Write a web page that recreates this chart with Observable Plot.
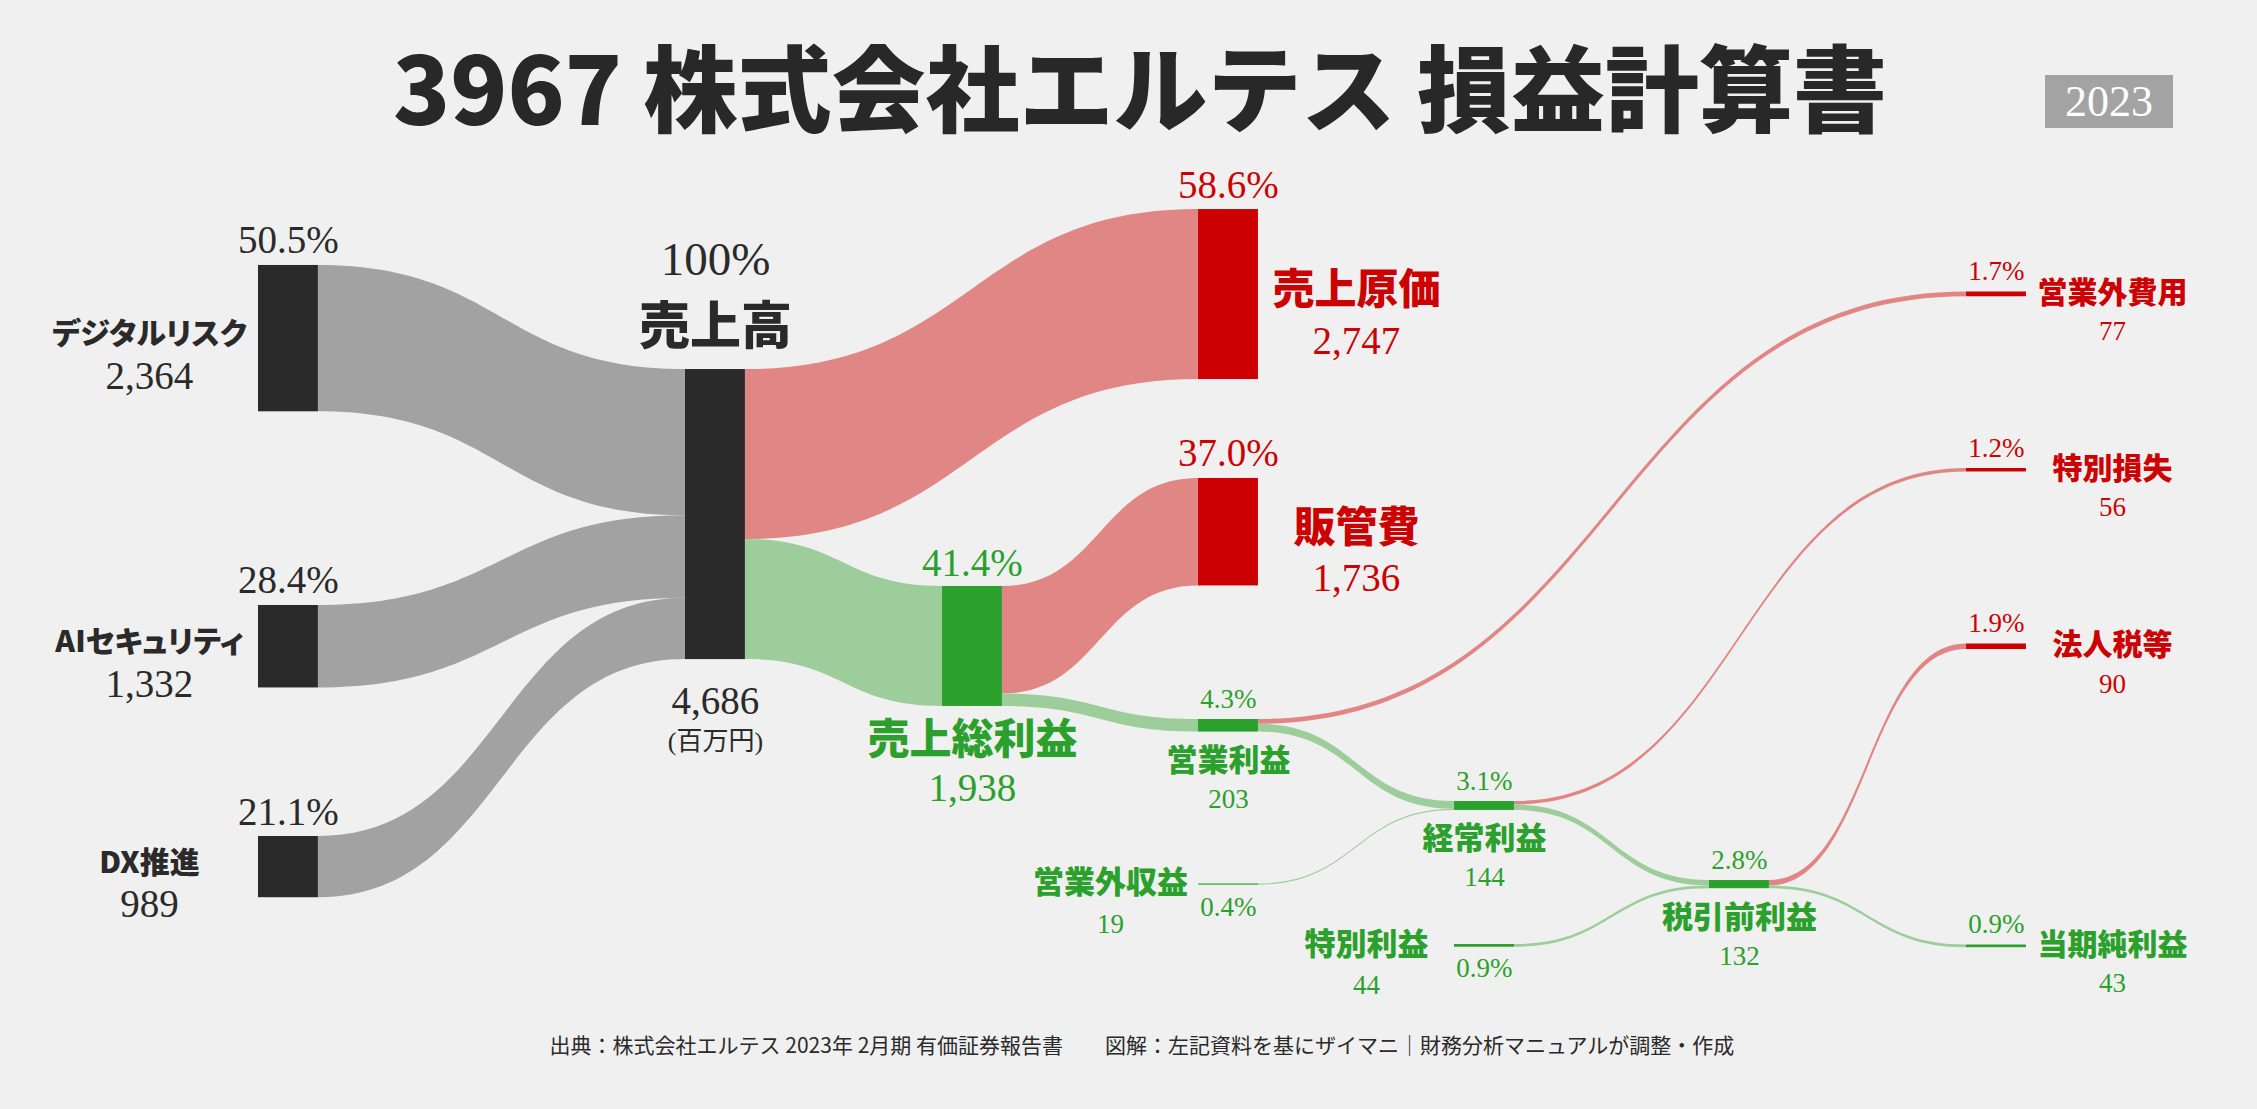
<!DOCTYPE html>
<html>
<head>
<meta charset="utf-8">
<script src="https://cdn.jsdelivr.net/npm/d3@7"></script>
<script src="https://cdn.jsdelivr.net/npm/@observablehq/plot@0.6"></script>
<style>
  html, body { margin: 0; padding: 0; background: #f0f0f0; }
  body { width: 2257px; height: 1109px; overflow: hidden; position: relative;
         font-family: "Noto Sans CJK JP", "Noto Sans", sans-serif; }
  #title { position: absolute; left: 0; width: 2280px; top: 38px; text-align: center;
           font-size: 94px; line-height: 93px; font-weight: 900; color: #282828;
           white-space: nowrap; }
  #badge { position: absolute; left: 2045px; top: 75px; width: 128px; height: 53px;
           background: #a3a3a3; color: #ffffff; font-family: "Liberation Serif", serif;
           font-size: 44px; line-height: 53px; text-align: center; }
  #chart { position: absolute; left: 0; top: 140px; }
  #chart svg { display: block; }
  #chart svg text { font-feature-settings: "palt"; }
  #footer { position: absolute; left: 0; width: 2284px; top: 1034px; text-align: center;
            font-size: 21px; line-height: 20px; color: #2a2a2a; white-space: pre; }
</style>
</head>
<body>
<div id="title"></div>
<div id="badge"></div>
<div id="chart"></div>
<div id="footer"></div>
<script>
// ---------------- data ----------------
const titleText = "3967 株式会社エルテス 損益計算書";
const yearText = "2023";
const footerText = "出典：株式会社エルテス 2023年 2月期 有価証券報告書　　図解：左記資料を基にザイマニ｜財務分析マニュアルが調整・作成";
const unitText = "(百万円)";

const nodeNames   = ["デジタルリスク","AIセキュリティ","DX推進","売上高","売上原価","売上総利益","販管費","営業利益","営業外費用","営業外収益","経常利益","特別損失","特別利益","税引前利益","法人税等","当期純利益"];
const nodeValues  = [2364, 1332, 989, 4686, 2747, 1938, 1736, 203, 77, 19, 144, 56, 44, 132, 90, 43];
const nodePercents= [50.5, 28.4, 21.1, 100, 58.6, 41.4, 37.0, 4.3, 1.7, 0.4, 3.1, 1.2, 0.9, 2.8, 1.9, 0.9];

const linkSources = ["デジタルリスク","AIセキュリティ","DX推進","売上高","売上高","売上総利益","売上総利益","営業利益","営業利益","営業外収益","経常利益","経常利益","特別利益","税引前利益","税引前利益"];
const linkTargets = ["売上高","売上高","売上高","売上原価","売上総利益","販管費","営業利益","営業外費用","経常利益","経常利益","特別損失","税引前利益","税引前利益","法人税等","当期純利益"];
const linkValues  = [2364, 1332, 989, 2747, 1938, 1736, 203, 77, 125, 19, 56, 88, 44, 90, 43];

// ---------------- layout (separate from data) ----------------
const K = 0.0619;                       // pixels per 百万円 on the y scale
const H = 870;                          // svg height
const stageX = [0, 1.668, 2.672, 3.672, 4.672, 5.668, 6.672];   // column positions (x scale units)
const W = 0.234;                        // node width in x units
const nodeColumn = [0,0,0,1,3,2,3,3,6,3,4,6,4,5,6,6];
const nodeTop    = [2019,7512,11244,3700,1115,7205,5460,9354,2447,12011,10679,5299,12989,11955,8134,12997]; // y-scale units
const nodeKind   = ["src","src","src","total","cost","gross","cost","mid","right","inLeft","mid","right","inLeft","mid","right","right"];
const nodeTone   = ["dark","dark","dark","dark","red","green","red","green","red","green","green","red","green","green","red","green"];

const nodeFill = {dark: "#2a2a2a", red: "#cc0000", green: "#2ca02c"};
const linkFill = {dark: "#a2a2a2", red: "#e08785", green: "#9dcd9b"};
const textFill = {dark: "#2a2a2a", red: "#cc0000", green: "#2ca02c"};
const SERIF = "'Liberation Serif','Times New Roman','Noto Sans CJK JP',serif";
const SANS  = "'Noto Sans CJK JP','Noto Sans',sans-serif";

document.getElementById("title").textContent = titleText;
document.getElementById("badge").textContent = yearText;
document.getElementById("footer").textContent = footerText;

// nodes table
const nodes = nodeNames.map((name, i) => ({
  i, name, value: nodeValues[i], pct: nodePercents[i],
  x1: stageX[nodeColumn[i]], x2: stageX[nodeColumn[i]] + W,
  y1: nodeTop[i], y2: nodeTop[i] + nodeValues[i],
  kind: nodeKind[i], tone: nodeTone[i]
}));

// links: stacked within source and target nodes
const outOff = new Map(), inOff = new Map();
const linkPts = [];
linkSources.forEach((s, i) => {
  const t = linkTargets[i], v = linkValues[i];
  const sn = nodes[nodeNames.indexOf(s)], tn = nodes[nodeNames.indexOf(t)];
  const so = outOff.get(s) ?? 0, to = inOff.get(t) ?? 0;
  outOff.set(s, so + v); inOff.set(t, to + v);
  const color = linkFill[tn.tone];
  linkPts.push({id: i, x: sn.x2, y1: sn.y1 + so, y2: sn.y1 + so + v, color});
  linkPts.push({id: i, x: tn.x1, y1: tn.y1 + to, y2: tn.y1 + to + v, color});
});

// label specs by node kind (pixel offsets)
const fmt = d3.format(",");
const pctText = d => d.pct === 100 ? "100%" : d.pct.toFixed(1) + "%";
const specs = {
  src: [
    {part: "pct",   at: "top", dx: 0,    dy: -12, size: 39},
    {part: "name",  at: "mid", dx: -139, dy: -4,  size: 30},
    {part: "value", at: "mid", dx: -139, dy: 50,  size: 39}],
  total: [
    {part: "pct",   at: "top",    dx: 0, dy: -95, size: 47},
    {part: "name",  at: "top",    dx: 0, dy: -42, size: 51},
    {part: "value", at: "bottom", dx: 0, dy: 54,  size: 39},
    {part: "unit",  at: "bottom", dx: 0, dy: 82,  size: 26}],
  gross: [
    {part: "pct",   at: "top",    dx: 0, dy: -10, size: 39},
    {part: "name",  at: "bottom", dx: 0, dy: 34,  size: 42},
    {part: "value", at: "bottom", dx: 0, dy: 95,  size: 39}],
  cost: [
    {part: "pct",   at: "top", dx: 0,   dy: -12, size: 39},
    {part: "name",  at: "mid", dx: 128, dy: -4,  size: 42},
    {part: "value", at: "mid", dx: 128, dy: 59,  size: 39}],
  mid: [
    {part: "pct",   at: "top",    dx: 0, dy: -12, size: 27},
    {part: "name",  at: "bottom", dx: 0, dy: 29,  size: 31},
    {part: "value", at: "bottom", dx: 0, dy: 76,  size: 27}],
  inLeft: [
    {part: "pct",   at: "mid", dx: 0,    dy: 31, size: 27},
    {part: "name",  at: "mid", dx: -118, dy: -1, size: 31},
    {part: "value", at: "mid", dx: -118, dy: 48, size: 27}],
  right: [
    {part: "pct",   at: "top", dx: 0,   dy: -12, size: 27},
    {part: "name",  at: "mid", dx: 116, dy: -1,  size: 30},
    {part: "value", at: "mid", dx: 116, dy: 46,  size: 27}]
};

const labelMarks = [];
nodes.forEach(n => {
  specs[n.kind].forEach(s => {
    const yAt = s.at === "top" ? n.y1 : s.at === "bottom" ? n.y2 : (n.y1 + n.y2) / 2;
    const isName = s.part === "name";
    const text = s.part === "pct" ? pctText(n) : s.part === "value" ? fmt(n.value) : s.part === "unit" ? unitText : n.name;
    labelMarks.push(Plot.text([n], {
      x: d => (d.x1 + d.x2) / 2,
      y: () => yAt,
      text: () => text,
      dx: s.dx, dy: s.dy,
      fontSize: s.size,
      fontFamily: isName ? SANS : SERIF,
      fontWeight: isName ? 900 : 400,
      fill: textFill[n.tone],
      textAnchor: "middle",
      lineAnchor: isName ? "middle" : (s.part === "unit" ? "middle" : "bottom")
    }));
  });
});

const chart = Plot.plot({
  width: 2257,
  height: H,
  margin: 0,
  x: {domain: [0, 6.672], range: [258, 258 + 6.672 * 256], axis: null},
  y: {domain: [0, H / K], range: [0, H], axis: null},
  color: {type: "identity"},
  style: {background: "transparent", overflow: "visible"},
  marks: [
    Plot.areaY(linkPts, {x: "x", y1: "y1", y2: "y2", z: "id", fill: "color", curve: "bump-x"}),
    Plot.rect(nodes, {x1: "x1", x2: "x2", y1: "y1", y2: "y2", fill: d => nodeFill[d.tone], inset: 0}),
    ...labelMarks
  ]
});
document.getElementById("chart").appendChild(chart);
</script>
</body>
</html>
